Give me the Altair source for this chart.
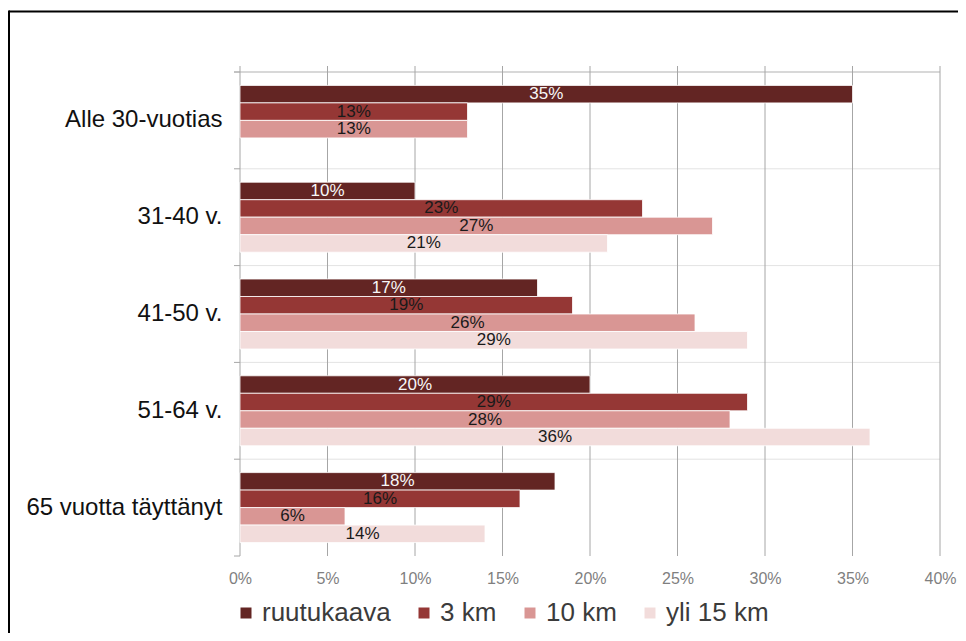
import altair as alt
import pandas as pd

ages = ["Alle 30-vuotias", "31-40 v.", "41-50 v.", "51-64 v.", "65 vuotta täyttänyt"]
series = ["ruutukaava", "3 km", "10 km", "yli 15 km"]
colors = ["#632523", "#953735", "#D99694", "#F2DCDB"]
ruutukaava = [35, 10, 17, 20, 18]
km3 = [13, 23, 19, 29, 16]
km10 = [13, 27, 26, 28, 6]
yli15 = [None, 21, 29, 36, 14]
x_ticks = [0, 5, 10, 15, 20, 25, 30, 35, 40]
band_edges = [0, 1, 2, 3, 4, 5]

rows = []
for s, vals in zip(series, [ruutukaava, km3, km10, yli15]):
    for a, v in zip(ages, vals):
        if v is not None:
            rows.append({"age": a, "series": s, "value": v})
df = pd.DataFrame(rows)

FONT = "Liberation Sans, Arial, sans-serif"
W, H = 700, 484

xscale = alt.Scale(domain=[0, 40], nice=False, zero=True)
xaxis = alt.Axis(values=x_ticks, labelExpr="datum.value + '%'", title=None, grid=False,
                 domain=False, ticks=False, labelFontSize=16, labelColor="#7f7f7f",
                 labelPadding=14, labelFont=FONT, labelFlush=False, labelAlign="center")
yscale = alt.Scale(domain=ages, paddingInner=0.277, paddingOuter=0.1385)
yaxis = alt.Axis(title=None, domain=False, ticks=False, grid=False, labelFontSize=24,
                 labelColor="#111111", labelPadding=18, labelFont=FONT, labelLimit=300)
offscale = alt.Scale(domain=series, paddingInner=0, paddingOuter=0)
edge_scale = alt.Scale(domain=[0, 5], nice=False, zero=True)

one = pd.DataFrame({"k": [0]})

vgrid = alt.Chart(pd.DataFrame({"t": x_ticks})).mark_rule(color="#a6a6a6", strokeWidth=1).encode(
    x=alt.X("t:Q", scale=xscale, axis=xaxis),
    y=alt.value(-6), y2=alt.value(H))

hgrid = alt.Chart(pd.DataFrame({"b": band_edges[1:]})).mark_rule(color="#e3e3e3", strokeWidth=1).encode(
    y=alt.Y("b:Q", scale=edge_scale, axis=None),
    x=alt.value(0), x2=alt.value(W))

htick = alt.Chart(pd.DataFrame({"b": band_edges})).mark_rule(color="#a6a6a6", strokeWidth=1).encode(
    y=alt.Y("b:Q", scale=edge_scale, axis=None),
    x=alt.value(-6), x2=alt.value(0))

htop = alt.Chart(one).mark_rule(color="#bfbfbf", strokeWidth=1).encode(
    y=alt.value(0), x=alt.value(-6), x2=alt.value(W))

legend = alt.Legend(orient="none", legendX=-7, legendY=528, direction="horizontal", columns=4,
                    title=None, symbolType="square", symbolSize=121, symbolStrokeWidth=0,
                    labelFontSize=26, labelFont=FONT, labelColor="#3b3b3b", labelOffset=3,
                    columnPadding=20, padding=0)

bars = alt.Chart(df).mark_bar(stroke="white", strokeWidth=0.8).encode(
    y=alt.Y("age:N", scale=yscale, axis=yaxis, sort=ages),
    yOffset=alt.YOffset("series:N", scale=offscale, sort=series),
    x=alt.X("value:Q", scale=xscale, axis=xaxis),
    color=alt.Color("series:N", scale=alt.Scale(domain=series, range=colors), legend=legend),
)

text = alt.Chart(df).transform_calculate(
    mid="datum.value / 2", label="datum.value + '%'"
).mark_text(fontSize=17, font=FONT, baseline="middle", align="center").encode(
    y=alt.Y("age:N", scale=yscale, axis=yaxis, sort=ages),
    yOffset=alt.YOffset("series:N", scale=offscale, sort=series),
    x=alt.X("mid:Q", scale=xscale, axis=xaxis),
    text="label:N",
    color=alt.condition(alt.datum.series == "ruutukaava", alt.value("#f7f7f7"), alt.value("#1a1a1a")),
)

frame_top = alt.Chart(one).mark_rule(color="black", strokeWidth=2).encode(
    x=alt.value(-231), x2=alt.value(730), y=alt.value(-60.5))
frame_left = alt.Chart(one).mark_rule(color="black", strokeWidth=2).encode(
    x=alt.value(-231), y=alt.value(-61.5), y2=alt.value(580))

chart = alt.layer(
    hgrid, htop, htick, vgrid, alt.layer(bars, text), frame_top, frame_left
).resolve_scale(y="independent").properties(
    width=W, height=H,
    padding={"left": 232, "top": 64, "right": 18, "bottom": 77},
    autosize=alt.AutoSizeParams(type="none"),
    background="white",
).configure_view(stroke=None)

chart.save("out.html", embed_options={"renderer": "svg", "actions": False})
